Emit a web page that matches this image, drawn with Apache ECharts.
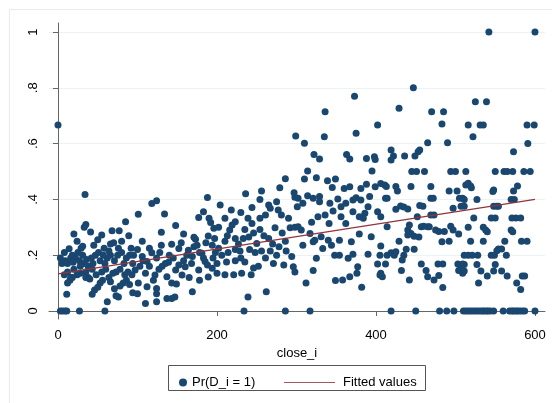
<!DOCTYPE html>
<html>
<head>
<meta charset="utf-8">
<script src="https://cdn.jsdelivr.net/npm/echarts@6/dist/echarts.min.js"></script>
<style>
  html, body { margin: 0; padding: 0; background: #fff; }
  #container { width: 552px; height: 403px; }
</style>
</head>
<body>
<div id="container"></div>
<script>
// close_i vs Pr(D_i = 1) in slices of close_i
var pts0to100 = [
  [0,0.667],[34,0.418],[33,0.30],[35,0.31],[20,0.276],[41,0.283],[55,0.272],[68,0.288],[77,0.288],[85,0.32],[89,0.27],
  [45,0.236],[14,0.223],[29,0.225],[31,0.232],[66,0.24],[70,0.245],[8,0.21],[24,0.25],[50,0.255],[80,0.25],
  [3,0.19],[5,0.17],[9,0.18],[12,0.17],[16,0.19],[18,0.2],[22,0.19],[25,0.21],[27,0.18],[31,0.2],[33,0.17],[38,0.16],
  [42,0.19],[47,0.2],[51,0.21],[53,0.18],[57,0.2],[62,0.19],[66,0.2],[71,0.18],[75,0.2],[80,0.21],[86,0.19],[90,0.2],[94,0.17],
  [8,0.13],[12,0.14],[16,0.12],[20,0.15],[24,0.13],[35,0.14],[38,0.12],[43,0.15],[48,0.13],[55,0.14],[60,0.15],[64,0.12],
  [73,0.14],[78,0.15],[84,0.13],[88,0.14],[93,0.13],[28,0.16],[59,0.17],
  [12,0.10],[15,0.11],[18,0.12],[35,0.12],[40,0.115],[43,0.06],[46,0.075],[50,0.085],[53,0.1],[56,0.11],[66,0.105],
  [71,0.08],[73,0.055],[76,0.05],[78,0.09],[82,0.1],[86,0.11],[90,0.095],[94,0.065],
  [11,0.06],[62,0.033],
  [19,0.175],[36,0.185],[44,0.17],[58,0.225],[64,0.215],[76,0.225],[83,0.17],[92,0.225],[28,0.135],[69,0.135],
  [3,0],[6,0],[9,0],[11,0],[27,0],[59,0]
];
var pts100to200 = [
  [118,0.385],[124,0.395],[188,0.407],[101,0.347],[134,0.348],[183,0.356],[177,0.335],[190,0.332],[192,0.317],[196,0.297],
  [148,0.306],[130,0.282],[158,0.276],[171,0.264],[173,0.257],[189,0.269],[106,0.25],[130,0.236],[143,0.239],
  [118,0.209],[152,0.224],[164,0.218],[175,0.236],[194,0.236],
  [95,0.2],[106,0.195],[112,0.177],[124,0.19],[135,0.17],[145,0.19],[158,0.18],[169,0.195],[181,0.207],[185,0.177],[195,0.19],
  [100,0.22],[128,0.21],[140,0.2],[162,0.2],[178,0.21],[198,0.21],
  [97,0.147],[110,0.135],[122,0.129],[137,0.123],[148,0.147],[156,0.129],[160,0.159],[177,0.147],[194,0.153],
  [103,0.16],[131,0.16],[168,0.17],[188,0.165],
  [101,0.1],[112,0.087],[124,0.081],[143,0.1],[149,0.097],[178,0.11],[189,0.122],[120,0.11],[165,0.12],
  [100,0.062],[124,0.062],[137,0.045],[143,0.045],[147,0.05],[169,0.069],
  [115,0.16],[127,0.15],[139,0.175],[152,0.165],[171,0.23],[183,0.19],[107,0.18],[115,0.225],[155,0.245],[186,0.245],
  [110,0.027],[124,0.033]
];
var pts200to300 = [
  [299,0.627],[286,0.474],[279,0.442],[297,0.424],[298,0.408],[301,0.374],[256,0.43],[254,0.4],[236,0.42],
  [204,0.38],[218,0.362],[230,0.353],[244,0.371],[265,0.38],[267,0.368],[275,0.392],[277,0.362],[281,0.344],[290,0.332],
  [210,0.332],[223,0.32],[219,0.308],[239,0.332],[244,0.314],[254,0.332],[261,0.344],
  [202,0.3],[216,0.29],[235,0.292],[254,0.292],[273,0.298],[292,0.298],[298,0.3],
  [197,0.26],[210,0.25],[223,0.26],[233,0.26],[240,0.265],[250,0.242],[265,0.26],[286,0.25],
  [202,0.225],[214,0.21],[223,0.22],[229,0.215],[241,0.22],[248,0.21],[256,0.215],[267,0.215],[275,0.2],[287,0.215],[294,0.195],
  [200,0.17],[212,0.176],[223,0.18],[235,0.176],[261,0.19],[271,0.17],[284,0.165],[296,0.159],
  [200,0.135],[210,0.13],[221,0.13],[231,0.135],[243,0.13],[246,0.154],[252,0.16],[298,0.14],
  [206,0.2],[227,0.24],[246,0.28],[259,0.27],[270,0.24],[282,0.28],[213,0.27],[230,0.19],[278,0.23],
  [239,0.05],[262,0.069],[234,0],[286,0]
];
var pts300to400 = [
  [373,0.77],[336,0.714],[402,0.667],[375,0.637],[335,0.625],[310,0.601],
  [322,0.561],[329,0.545],[363,0.561],[367,0.545],[388,0.547],[398,0.553],[399,0.543],
  [314,0.502],[310,0.473],[325,0.478],[339,0.467],[349,0.473],[345,0.443],[395,0.502],
  [360,0.439],[367,0.445],[381,0.439],[388,0.454],[399,0.445],[406,0.457],
  [302,0.404],[308,0.386],[314,0.413],[321,0.404],[329,0.41],[329,0.392],[342,0.386],[352,0.401],[356,0.374],
  [362,0.386],[371,0.398],[375,0.406],[381,0.398],[392,0.41],[390,0.374],
  [319,0.318],[327,0.338],[336,0.344],[341,0.314],[346,0.358],[356,0.338],[362,0.314],[371,0.356],[379,0.338],
  [386,0.35],[384,0.332],[402,0.356],
  [302,0.302],[306,0.29],[317,0.278],[323,0.254],[331,0.266],[340,0.254],[344,0.236],[354,0.254],[369,0.248],[379,0.276],[394,0.266],
  [308,0.236],[321,0.248],[333,0.224],[348,0.2],[354,0.2],[365,0.189],[371,0.203],[390,0.203],[405,0.2],[325,0.189],
  [377,0.159],[376,0.135],[402,0.168],[405,0.129],[321,0.145],
  [349,0.109],[358,0.111],[367,0.123],[312,0.1],[382,0.085],
  [317,0]
];
var pts400to500 = [
  [447,0.8],[429,0.727],[470,0.714],[485,0.714],[483,0.67],[465,0.603],[490,0.603],
  [419,0.577],[422,0.556],[419,0.541],[436,0.556],[449,0.556],[453,0.571],[455,0.577],
  [445,0.5],[451,0.5],[461,0.5],[494,0.5],[500,0.5],
  [411,0.452],[413,0.446],[425,0.446],[427,0.43],[444,0.446],[469,0.446],[492,0.43],[502,0.43],[513,0.452],
  [412,0.404],[414,0.404],[469,0.404],[472,0.404],[505,0.404],[509,0.404],
  [431,0.376],[435,0.373],[440,0.366],[455,0.378],[459,0.375],[507,0.375],[497,0.368],
  [406,0.338],[425,0.365],[452,0.338],[469,0.344],[473,0.344],
  [414,0.302],[442,0.308],[440,0.29],[457,0.302],[460,0.304],[465,0.302],[467,0.302],[475,0.29],[479,0.285],[486,0.285],
  [494,0.304],[497,0.29],[504,0.276],
  [440,0.272],[444,0.278],[448,0.268],[454,0.265],[483,0.248],[492,0.25],[429,0.25],
  [406,0.233],[414,0.2],[419,0.209],[423,0.2],[435,0.2],[425,0.212],[438,0.221],[448,0.221],[433,0.183],
  [412,0.168],[457,0.168],[478,0.168],[484,0.168],[503,0.168],[509,0.168],[507,0.153],
  [408,0.123],[406,0.135],[432,0.145],[463,0.145],[465,0.123],[473,0.111],[479,0.127],[504,0.145],[509,0.135],[442,0.111],
  [484,0.084],
  [419,0],[450,0],[480,0],[489,0],[498,0],[510,0]
];
var pts500to600 = [
  [542,1.0],[600,1.0],
  [525,0.75],[539,0.75],[516,0.667],[531,0.667],[535,0.667],[590,0.667],[599,0.667],[522,0.625],[591,0.6],[573,0.571],
  [513,0.5],[550,0.5],[561,0.5],[565,0.5],[572,0.5],[586,0.5],[594,0.5],
  [516,0.458],[519,0.448],[520,0.442],[578,0.448],[573,0.43],[548,0.434],[547,0.428],
  [511,0.4],[527,0.4],[570,0.4],[574,0.4],
  [511,0.375],[548,0.375],[552,0.375],[554,0.375],
  [523,0.333],[545,0.333],[550,0.333],[571,0.333],[576,0.333],[582,0.333],
  [516,0.3],[535,0.3],[538,0.29],[540,0.284],[570,0.29],[572,0.284],
  [519,0.25],[535,0.25],[562,0.25],[583,0.25],[590,0.25],
  [554,0.222],[558,0.222],[552,0.216],
  [511,0.2],[516,0.2],[521,0.2],[528,0.2],[545,0.2],[549,0.2],[564,0.2],
  [511,0.167],[527,0.167],[550,0.167],
  [511,0.143],[532,0.143],[548,0.143],[558,0.143],[584,0.125],[587,0.125],
  [529,0.1],[540,0.125],[565,0.125],[577,0.1],[582,0.077],
  [513,0],[516,0],[519,0],[522,0],[525,0],[528,0],[531,0],[534,0],[536,0],[539,0],[541,0],[544,0],[548,0],
  [560,0],[568,0],[571,0],[573,0],[576,0],[578,0],[581,0],[584,0],[587,0],[600,0]
];
var fitX = [0, 600];
var fitY = [0.133, 0.40];
var xTicks = [0, 200, 400, 600];
var yTicks = [0, 0.2, 0.4, 0.6, 0.8, 1];

var scatterData = pts0to100.concat(pts100to200, pts200to300, pts300to400, pts400to500, pts500to600);
var fitData = fitX.map(function (x, i) { return [x, fitY[i]]; });

var dom = document.getElementById("container");
var myChart = echarts.init(dom);
var font = 'Arial, "Liberation Sans", sans-serif';
var option = {
    backgroundColor: '#fff',
    animation: false,
    grid: { left: 49, right: 7, top: 23, bottom: 84 },
    graphic: [
        { type: 'rect', shape: { x: 9.5, y: 9.5, width: 600, height: 500 },
          style: { fill: 'none', stroke: '#e4ecee', lineWidth: 1 }, z: 0 },
        { type: 'rect', shape: { x: 168.5, y: 365.5, width: 257, height: 25 },
          style: { fill: 'none', stroke: '#555', lineWidth: 1 }, z: 10 }
    ],
    legend: [
        { left: 174, top: 371, itemWidth: 8, itemHeight: 8, data: [{ name: 'Pr(D_i = 1)', icon: 'circle' }],
          textStyle: { color: '#000', fontSize: 13, fontFamily: font } },
        { left: 279, top: 371, itemWidth: 51, itemHeight: 1.2,
          data: [{ name: 'Fitted values', icon: 'rect', itemStyle: { color: '#a0585d' } }],
          textStyle: { color: '#000', fontSize: 13, fontFamily: font, padding: [0, 0, 0, 3] } }
    ],
    xAxis: {
        type: 'value', min: -11.32, max: 612.6,
        name: 'close_i', nameLocation: 'middle', nameGap: 24,
        nameTextStyle: { color: '#000', fontSize: 13, fontFamily: font },
        axisLine: { show: true, lineStyle: { color: '#666', width: 1 } },
        axisTick: { show: true, length: 5, customValues: xTicks, lineStyle: { color: '#666' } },
        axisLabel: { customValues: xTicks, margin: 10, color: '#000', fontSize: 13, fontFamily: font },
        splitLine: { show: false }
    },
    yAxis: {
        type: 'value', min: -0.0287, max: 1.0323,
        axisLine: { show: true, lineStyle: { color: '#666', width: 1 } },
        axisTick: { show: true, length: 5, customValues: yTicks, lineStyle: { color: '#666' } },
        axisLabel: {
            customValues: yTicks, rotate: 90, margin: 9, color: '#000', fontSize: 13, fontFamily: font,
            formatter: function (v) {
                if (v === 0) return '0';
                if (v === 1) return '1';
                return v.toFixed(1).replace('0.', '.');
            }
        },
        splitLine: { show: true, lineStyle: { color: '#eaf2f3', width: 1 } }
    },
    series: [
        {
            name: 'Pr(D_i = 1)', type: 'scatter', symbol: 'circle', symbolSize: 7,
            itemStyle: { color: '#1a476f', opacity: 1 },
            data: scatterData, z: 3, clip: false
        },
        {
            name: 'Fitted values', type: 'line', symbol: 'none', showSymbol: false,
            lineStyle: { color: '#90353b', width: 1.2 },
            itemStyle: { color: '#90353b' },
            data: fitData, z: 4
        }
    ]
};
if (option && typeof option === "object") {
    myChart.setOption(option, true);
}
</script>
</body>
</html>
